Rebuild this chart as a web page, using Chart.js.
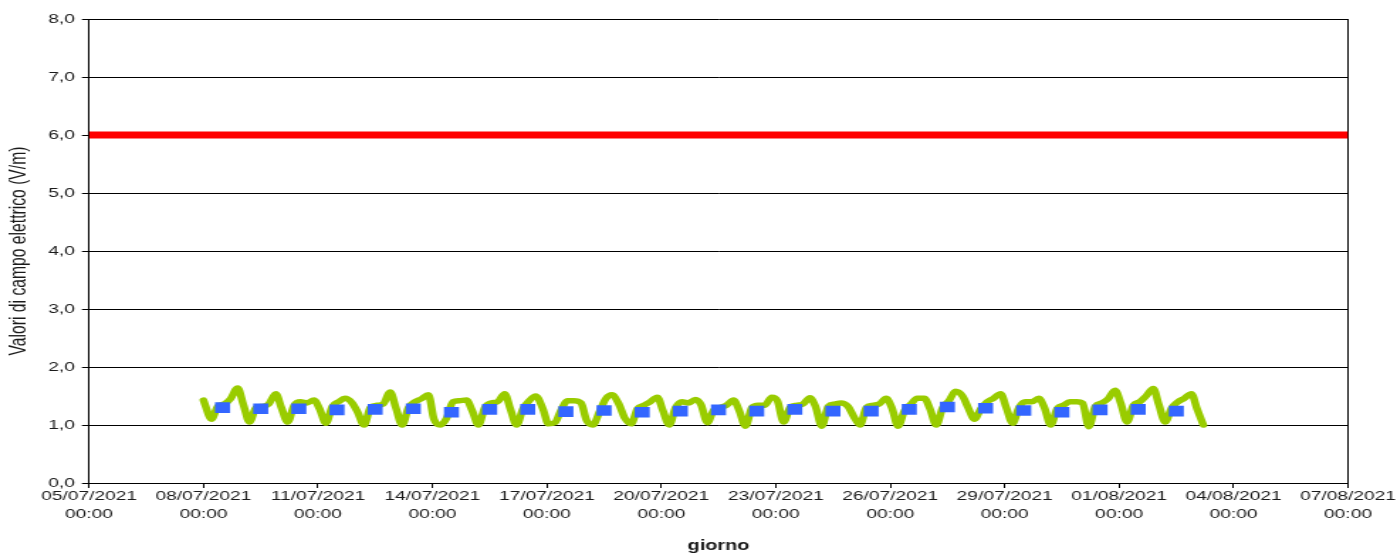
<!DOCTYPE html>
<html>
<head>
<meta charset="utf-8">
<script src="https://cdn.jsdelivr.net/npm/chart.js@4.4.0/dist/chart.umd.min.js"></script>
<style>
  html, body { margin: 0; padding: 0; background: #fff; overflow: hidden; }
  /* the reference is stretched sideways, so the chart is drawn narrow and scaled */
  #wrap { width: 984px; height: 555px; transform: scaleX(1.4197); transform-origin: 0 0; }
</style>
</head>
<body>
<div id="wrap"><canvas id="chart"></canvas></div>
<script>
// x in days from 05/07/2021 00:00
const tickLabels = ['05/07/2021', '08/07/2021', '11/07/2021', '14/07/2021', '17/07/2021', '20/07/2021',
  '23/07/2021', '26/07/2021', '29/07/2021', '01/08/2021', '04/08/2021', '07/08/2021'];
const tickTime = '00:00';
const firstDay = 3; // 08/07/2021

const limitValue = 6.0;

// field samples, one row per day from 08/07, taken at these hours
const sampleHours = [1, 5, 9, 13, 17, 21.5];
const startValue = 1.43; // 08/07 00:00
const fieldValues = [
  [1.35, 1.10, 1.32, 1.36, 1.45, 1.64],
  [1.36, 1.05, 1.30, 1.32, 1.36, 1.54],
  [1.30, 1.05, 1.34, 1.40, 1.38, 1.43],
  [1.28, 1.03, 1.32, 1.40, 1.46, 1.38],
  [1.22, 1.00, 1.30, 1.34, 1.36, 1.57],
  [1.30, 1.00, 1.30, 1.40, 1.45, 1.52],
  [1.10, 1.00, 1.12, 1.40, 1.42, 1.43],
  [1.25, 1.00, 1.30, 1.38, 1.40, 1.54],
  [1.28, 1.00, 1.28, 1.42, 1.50, 1.28],
  [1.02, 1.04, 1.26, 1.42, 1.42, 1.38],
  [1.08, 1.00, 1.22, 1.45, 1.52, 1.35],
  [1.12, 1.02, 1.28, 1.34, 1.40, 1.48],
  [1.25, 1.00, 1.30, 1.40, 1.38, 1.44],
  [1.35, 1.04, 1.26, 1.30, 1.34, 1.43],
  [1.25, 0.98, 1.30, 1.34, 1.34, 1.48],
  [1.42, 1.05, 1.30, 1.34, 1.36, 1.47],
  [1.32, 0.98, 1.32, 1.36, 1.38, 1.32],
  [1.15, 1.00, 1.30, 1.34, 1.36, 1.46],
  [1.30, 0.98, 1.25, 1.36, 1.46, 1.46],
  [1.28, 1.00, 1.30, 1.42, 1.58, 1.50],
  [1.30, 1.10, 1.28, 1.40, 1.46, 1.54],
  [1.30, 1.03, 1.30, 1.40, 1.40, 1.46],
  [1.30, 1.00, 1.28, 1.34, 1.40, 1.40],
  [1.38, 0.97, 1.32, 1.38, 1.45, 1.60],
  [1.38, 1.05, 1.34, 1.40, 1.50, 1.63],
  [1.35, 1.05, 1.29, 1.40, 1.46, 1.54],
  [1.28, 1.00]
];

// daily means, plotted at noon from 08/07 to 02/08
const dailyMeans = [1.30, 1.28, 1.28, 1.26, 1.27, 1.28, 1.22, 1.27, 1.27, 1.23, 1.25, 1.22, 1.24,
  1.26, 1.24, 1.27, 1.24, 1.24, 1.27, 1.31, 1.29, 1.25, 1.22, 1.26, 1.27, 1.24];

const fieldPoints = [{x: firstDay, y: startValue}];
fieldValues.forEach((row, d) => {
  row.forEach((v, i) => fieldPoints.push({x: firstDay + d + sampleHours[i] / 24, y: v}));
});
const meanPoints = dailyMeans.map((v, d) => ({x: firstDay + d + 0.5, y: v}));
const lastTick = (tickLabels.length - 1) * 3;
const limitPoints = [{x: 0, y: limitValue}, {x: lastTick, y: limitValue}];

const font = {family: "'Liberation Sans', Arial, sans-serif", size: 13.5};
const textColor = '#1a1a1a';

new Chart(document.getElementById('chart'), {
  type: 'line',
  data: {
    datasets: [{
      data: meanPoints,
      showLine: false,
      pointStyle: 'rect',
      pointRadius: 7.5,
      pointBackgroundColor: '#3366ff',
      pointBorderWidth: 0,
      order: 0
    }, {
      data: fieldPoints,
      borderColor: '#99cc00',
      borderWidth: 5.5,
      cubicInterpolationMode: 'monotone',
      borderJoinStyle: 'round',
      borderCapStyle: 'round',
      pointRadius: 0,
      order: 1
    }, {
      data: limitPoints,
      borderColor: '#ff0000',
      borderWidth: 7,
      pointRadius: 0,
      order: 2
    }]
  },
  options: {
    responsive: true,
    maintainAspectRatio: false,
    animation: false,
    layout: {padding: {left: 0, right: 34.5, top: 19, bottom: 0}},
    plugins: {legend: {display: false}, tooltip: {enabled: false}},
    scales: {
      x: {
        type: 'linear',
        min: 0,
        max: lastTick,
        afterFit: s => { s.height = 72; },
        ticks: {
          stepSize: 3,
          autoSkip: false,
          maxRotation: 0,
          padding: 0,
          color: textColor,
          font: {...font, lineHeight: 1.3},
          callback: v => [tickLabels[Math.round(v / 3)], tickTime]
        },
        grid: {
          color: c => (c.tick && c.tick.value === lastTick) ? '#000' : 'rgba(0,0,0,0)',
          tickColor: '#000',
          tickLength: 5,
          lineWidth: 1
        },
        border: {color: '#000', width: 1},
        title: {
          display: true,
          text: 'giorno',
          color: textColor,
          padding: 0,
          font: {...font, size: 14, weight: 'bold', lineHeight: 1.2}
        }
      },
      y: {
        min: 0,
        max: 8,
        afterFit: s => { s.width = 62.7; },
        ticks: {
          stepSize: 1,
          padding: 5,
          color: textColor,
          font: font,
          callback: v => v.toFixed(1).replace('.', ',')
        },
        grid: {color: '#000', tickColor: '#000', tickLength: 5, lineWidth: 1},
        border: {color: '#000', width: 1},
        title: {
          display: true,
          text: 'Valori di campo elettrico (V/m)',
          color: textColor,
          padding: {top: 4, bottom: 0},
          font: {...font, size: 15.7, lineHeight: 1.2}
        }
      }
    }
  }
});
</script>
</body>
</html>
